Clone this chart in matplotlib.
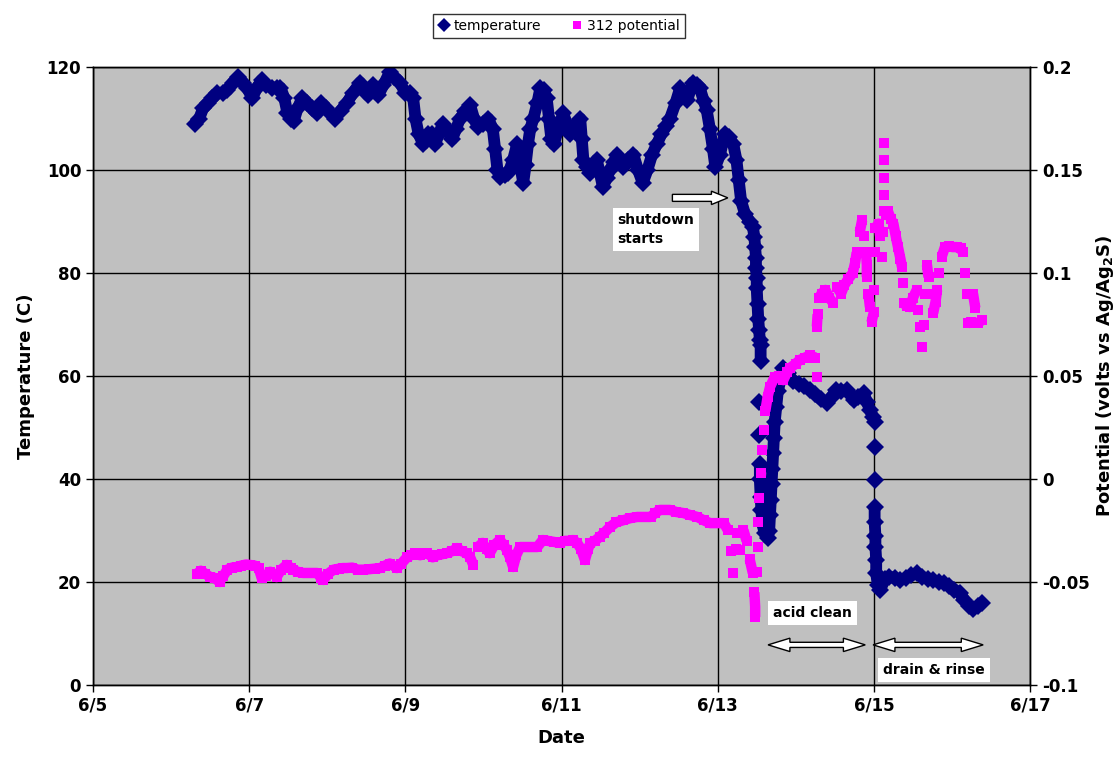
import matplotlib
matplotlib.use("Agg")
import matplotlib.pyplot as plt
import numpy as np
from matplotlib.patches import Polygon

# ---------------------------------------------------
# data (x = day of June)
# ---------------------------------------------------
temp_day = [6.30, 6.36, 6.41, 6.47, 6.53, 6.59, 6.66, 6.72, 6.79, 6.86, 6.92, 6.97,
            7.04, 7.10, 7.16, 7.22, 7.29, 7.35, 7.40, 7.45, 7.49, 7.53, 7.57, 7.62,
            7.68, 7.74, 7.80, 7.87, 7.92, 7.98, 8.04, 8.10, 8.17, 8.25, 8.33, 8.42,
            8.47, 8.52, 8.59, 8.65, 8.72, 8.80, 8.86, 8.93, 9.00, 9.06, 9.10, 9.13,
            9.17, 9.23, 9.29, 9.34, 9.38, 9.43, 9.48, 9.54, 9.60, 9.65, 9.70, 9.77,
            9.83, 9.88, 9.93, 10.00, 10.06, 10.12, 10.15, 10.18, 10.21, 10.27, 10.32,
            10.38, 10.43, 10.47, 10.51, 10.54, 10.57, 10.60, 10.64, 10.69, 10.73,
            10.77, 10.81, 10.84, 10.87, 10.90, 10.96, 11.02, 11.07, 11.11, 11.17,
            11.24, 11.26, 11.28, 11.33, 11.37, 11.41, 11.45, 11.49, 11.53, 11.58,
            11.62, 11.67, 11.71, 11.75, 11.79, 11.85, 11.92, 11.98, 12.04, 12.10,
            12.16, 12.22, 12.28, 12.34, 12.39, 12.46, 12.52, 12.57, 12.61, 12.65,
            12.68, 12.73, 12.77, 12.82, 12.86, 12.90, 12.94, 12.97, 13.03, 13.09,
            13.14, 13.20, 13.24, 13.27, 13.30, 13.35, 13.41, 13.45, 13.47, 13.48,
            13.49, 13.49, 13.50, 13.50, 13.51, 13.52, 13.53, 13.54, 13.55,
            13.55, 13.53, 13.53, 13.54, 13.54, 13.55, 13.56, 13.57, 13.60, 13.64,
            13.66, 13.67, 13.68, 13.69, 13.70, 13.71, 13.72, 13.73, 13.75, 13.77,
            13.80, 13.84, 13.90, 13.97, 14.04, 14.11, 14.18, 14.25, 14.32, 14.40,
            14.46, 14.52, 14.58, 14.65, 14.70, 14.74, 14.80, 14.87, 14.91, 14.95,
            14.99, 15.02, 15.01, 15.01, 15.01, 15.01, 15.02, 15.02, 15.03, 15.03,
            15.05, 15.08, 15.14, 15.20, 15.27, 15.34, 15.41, 15.48, 15.55, 15.62,
            15.69, 15.76, 15.83, 15.90, 15.96, 16.03, 16.10, 16.16, 16.22, 16.27,
            16.33, 16.38]
temp_val = [109, 110, 112, 113, 114, 115, 115, 115.5, 117, 118, 117, 116,
            114, 116, 117.5, 116.5, 116, 116, 116, 114, 111, 110, 109.5, 112,
            114, 113, 112, 111, 113, 112, 111, 110, 111.5, 113, 115, 117,
            115.5, 114.5, 116.5, 114.5, 116.5, 119, 118, 117, 115, 115, 114, 110,
            107, 105, 107, 107, 105, 107, 109, 107.5, 106, 108, 110, 111.5,
            112.6, 110, 108.4, 109, 110, 108, 104, 100, 98.6, 99, 99.4,
            102, 105, 101, 97.5, 101, 105, 108, 110, 113, 116,
            115.5, 114, 110, 106, 105, 108, 111, 109, 107, 108.5,
            110, 106, 102, 100.5, 99.4, 100.5, 102, 99.5, 96.7, 98.5,
            100, 101.5, 103, 101.5, 100.6, 102, 103, 100, 97.5, 100,
            103, 105, 107, 108.5, 110, 113, 116, 114.5, 113.6, 115.5,
            117, 116.5, 116, 113.5, 111.6, 108, 104, 100.6, 103, 107,
            106.5, 105, 102, 98, 94, 91.5, 90, 89, 87, 85,
            83, 81, 79, 77, 74, 71, 69, 67, 66,
            63, 55, 48.5, 43, 40, 36.5, 34, 31.5, 29.5, 28.5,
            30, 33, 36, 39, 42, 45, 48, 51, 54, 57,
            59, 61.5, 60.5, 59, 58.5, 58, 57.3, 56.5, 55.5, 54.8,
            56, 57.3, 57, 57.3, 56.5, 55.3, 56, 56.7, 55, 53.4,
            52, 51, 46.2, 39.8, 34.6, 31.7, 29, 26.8, 24.3, 21.7,
            19.5, 18.5, 20.5, 21, 20.8, 20.4, 20.8, 21.3, 21.7, 21,
            20.6, 20.4, 20, 19.8, 19.3, 18.5, 17.9, 16.5, 15.3, 14.8,
            15.3, 16]

pot_day = [6.33, 6.38, 6.44, 6.50, 6.56, 6.62, 6.67, 6.72, 6.78, 6.84, 6.90, 6.96,
           7.01, 7.07, 7.12, 7.16, 7.22, 7.27, 7.31, 7.35, 7.41, 7.48, 7.53, 7.56,
           7.62, 7.69, 7.75, 7.81, 7.87, 7.92, 7.95, 8.01, 8.08, 8.15, 8.20, 8.25,
           8.32, 8.39, 8.46, 8.53, 8.61, 8.68, 8.74, 8.80, 8.89, 8.95, 9.02, 9.07,
           9.12, 9.19, 9.25, 9.28, 9.35, 9.41, 9.47, 9.53, 9.60, 9.66, 9.72, 9.79,
           9.83, 9.87, 9.93, 9.99, 10.04, 10.08, 10.14, 10.21, 10.26, 10.30, 10.34,
           10.38, 10.42, 10.47, 10.53, 10.58, 10.64, 10.69, 10.76, 10.82, 10.90,
           10.98, 11.04, 11.09, 11.15, 11.20, 11.25, 11.30, 11.34, 11.37, 11.43,
           11.49, 11.55, 11.62, 11.70, 11.79, 11.88, 11.97, 12.06, 12.14, 12.20,
           12.26, 12.33, 12.39, 12.47, 12.56, 12.65, 12.74, 12.82, 12.90, 12.99,
           13.08, 13.13, 13.17, 13.20, 13.23, 13.25, 13.29, 13.33, 13.37, 13.41,
           13.45, 13.47, 13.48, 13.48, 13.50, 13.51, 13.52, 13.53, 13.55, 13.57,
           13.59, 13.61, 13.64, 13.67, 13.73, 13.78, 13.84, 13.89, 13.93, 14.00,
           14.05, 14.12, 14.18, 14.25, 14.27,
           14.27, 14.28, 14.30, 14.33, 14.38, 14.43, 14.48, 14.53, 14.58, 14.62,
           14.67, 14.73, 14.76, 14.78, 14.82, 14.85, 14.88, 14.90, 14.91, 14.91,
           14.93, 14.95, 14.97, 15.00, 15.00, 15.01, 15.02, 15.06, 15.08, 15.10,
           15.12, 15.13, 15.13, 15.13, 15.13, 15.13, 15.15, 15.18, 15.22, 15.25,
           15.28, 15.31, 15.34, 15.36, 15.37, 15.38, 15.42, 15.46, 15.50, 15.55,
           15.57, 15.59, 15.62, 15.64, 15.66, 15.68, 15.70, 15.72, 15.76, 15.79,
           15.81, 15.84, 15.87, 15.91, 15.96, 16.01, 16.06, 16.11, 16.14, 16.17,
           16.19, 16.21, 16.25, 16.27, 16.30, 16.33, 16.38]
pot_val = [-0.046, -0.0445, -0.046, -0.0476, -0.048, -0.05, -0.047, -0.044, -0.043,
           -0.0427, -0.042, -0.0415, -0.0417, -0.042, -0.043, -0.048, -0.047, -0.045,
           -0.046, -0.0476, -0.044, -0.0417, -0.043, -0.044, -0.045, -0.0456, -0.0456,
           -0.0456, -0.0456, -0.048, -0.049, -0.046, -0.044, -0.0435, -0.0432, -0.0432,
           -0.043, -0.044, -0.044, -0.0438, -0.0435, -0.0432, -0.042, -0.041, -0.0432,
           -0.041, -0.038, -0.037, -0.036, -0.037, -0.036, -0.036, -0.038, -0.037,
           -0.0365, -0.036, -0.035, -0.0335, -0.035, -0.036, -0.038, -0.0417, -0.033,
           -0.031, -0.034, -0.036, -0.032, -0.0296, -0.032, -0.0345, -0.038, -0.0427,
           -0.037, -0.033, -0.033, -0.033, -0.033, -0.033, -0.0296, -0.030, -0.0305,
           -0.031, -0.030, -0.030, -0.0296, -0.031, -0.034, -0.0393, -0.034, -0.031,
           -0.030, -0.028, -0.026, -0.0233, -0.021, -0.020, -0.019, -0.0184, -0.0184,
           -0.0184, -0.0165, -0.015, -0.015, -0.015, -0.016, -0.0165, -0.0175, -0.0184,
           -0.020, -0.0214, -0.0214, -0.0214, -0.0248, -0.035, -0.0456, -0.034, -0.026,
           -0.0345, -0.0248, -0.030, -0.039, -0.0456, -0.055, -0.062, -0.067, -0.045,
           -0.033, -0.021, -0.009, 0.003, 0.014, 0.024, 0.033, 0.040, 0.0447, 0.0495,
           0.050, 0.048, 0.052, 0.054, 0.056, 0.0578, 0.059, 0.060, 0.059, 0.0495,
           0.074, 0.080, 0.088, 0.090, 0.0918, 0.088, 0.0854, 0.093, 0.090, 0.094,
           0.097, 0.100, 0.105, 0.110, 0.120, 0.1257, 0.118, 0.110, 0.104, 0.098,
           0.090, 0.0835, 0.076, 0.081, 0.092, 0.110, 0.122, 0.124, 0.118, 0.108,
           0.120, 0.130, 0.138, 0.146, 0.155, 0.163, 0.128, 0.130, 0.126, 0.124,
           0.118, 0.1126, 0.107, 0.103, 0.095, 0.0854, 0.084, 0.0835, 0.088, 0.0918,
           0.082, 0.0738, 0.064, 0.075, 0.090, 0.104, 0.098, 0.090, 0.0806, 0.086,
           0.0918, 0.100, 0.108, 0.1126, 0.113, 0.1126, 0.1126, 0.112, 0.110, 0.100,
           0.090, 0.0757, 0.076, 0.090, 0.083, 0.0757, 0.077]

date_ticks = [5, 7, 9, 11, 13, 15, 17]
date_labels = ["6/%d" % d for d in date_ticks]
temp_ticks = [0, 20, 40, 60, 80, 100, 120]
pot_ticks = [-0.1, -0.05, 0, 0.05, 0.1, 0.15, 0.2]
pot_labels = ["-0.1", "-0.05", "0", "0.05", "0.1", "0.15", "0.2"]

NAVY = "#000080"
MAGENTA = "#FF00FF"

plt.rcParams["font.family"] = "DejaVu Sans"
plt.rcParams["mathtext.default"] = "regular"


def band(x, y, max_step):
    # the logger wrote readings so densely that the markers merge into a band;
    # fill the gaps between close readings, break where the value jumps
    x = np.asarray(x, float)
    y = np.asarray(y, float)
    xs, ys = [x[0]], [y[0]]
    for i in range(1, len(x)):
        if abs(y[i] - y[i - 1]) > max_step:
            xs.append(np.nan)
            ys.append(np.nan)
        xs.append(x[i])
        ys.append(y[i])
    return xs, ys


fig = plt.figure(figsize=(11.18, 7.62), dpi=100)
ax1 = fig.add_axes([0.0832, 0.101, 0.8381, 0.811])
ax2 = ax1.twinx()

ax1.set_facecolor("#C0C0C0")
bx, by = band(temp_day, temp_val, 4.0)
ax1.plot(bx, by, color=NAVY, linewidth=8.5, solid_capstyle="butt")
ax1.plot(temp_day, temp_val, linestyle="none", marker="D", markersize=9,
         markeredgewidth=0, color=NAVY, label="temperature")
bx, by = band(pot_day, pot_val, 0.007)
ax2.plot(bx, by, color=MAGENTA, linewidth=7.5, solid_capstyle="butt")
ax2.plot(pot_day, pot_val, linestyle="none", marker="s", markersize=7.5,
         markeredgewidth=0, color=MAGENTA, label="312 potential")

ax1.set_xlim(5, 17)
ax1.set_ylim(0, 120)
ax2.set_ylim(-0.1, 0.2)
ax1.set_xticks(date_ticks)
ax1.set_xticklabels(date_labels)
ax1.set_yticks(temp_ticks)
ax2.set_yticks(pot_ticks)
ax2.set_yticklabels(pot_labels)

ax1.grid(True, color="black", linewidth=1)
ax1.set_axisbelow(True)
for ax in (ax1, ax2):
    for s in ax.spines.values():
        s.set_color("black")
        s.set_linewidth(1)
    ax.tick_params(direction="out", length=5, width=1, labelsize=12)
    for lab in ax.get_xticklabels() + ax.get_yticklabels():
        lab.set_fontweight("bold")

ax1.set_xlabel("Date", fontsize=13, fontweight="bold", labelpad=10)
ax1.set_ylabel("Temperature (C)", fontsize=13, fontweight="bold", labelpad=8)
ax2.set_ylabel(r"Potential (volts vs Ag/Ag$_\mathbf{2}$S)", fontsize=13,
               fontweight="bold", labelpad=3)

# legend above the plot
h1, l1 = ax1.get_legend_handles_labels()
h2, l2 = ax2.get_legend_handles_labels()
leg = fig.legend(h1 + h2, l1 + l2, loc="center", bbox_to_anchor=(0.5, 0.966),
                 ncol=2, fontsize=10, frameon=True, fancybox=False,
                 handlelength=0.8, handletextpad=0.3, columnspacing=2.2,
                 borderpad=0.35, markerscale=0.75)
leg.get_frame().set_edgecolor("black")
leg.get_frame().set_linewidth(1)


# ---------------------------------------------------
# annotations: white block arrows + labels
# ---------------------------------------------------
def block_arrow(x0, x1, y, head, half_w, half_h, both=True):
    if both:
        pts = [(x0, y), (x0 + head, y + half_h), (x0 + head, y + half_w),
               (x1 - head, y + half_w), (x1 - head, y + half_h), (x1, y),
               (x1 - head, y - half_h), (x1 - head, y - half_w),
               (x0 + head, y - half_w), (x0 + head, y - half_h)]
    else:
        pts = [(x0, y + half_w), (x1 - head, y + half_w), (x1 - head, y + half_h),
               (x1, y), (x1 - head, y - half_h), (x1 - head, y - half_w),
               (x0, y - half_w)]
    ax2.add_patch(Polygon(pts, closed=True, facecolor="white", edgecolor="black",
                          linewidth=1, transform=ax1.transData, zorder=5))


block_arrow(12.42, 13.13, 94.6, 0.21, 0.68, 1.3, both=False)
block_arrow(13.645, 14.89, 7.8, 0.28, 0.5, 1.3)
block_arrow(14.99, 16.40, 7.8, 0.28, 0.5, 1.3)

box = dict(boxstyle="square,pad=0.35", facecolor="white", edgecolor="none")
ax2.text(11.72, 88.5, "shutdown\nstarts", transform=ax1.transData, fontsize=10,
         fontweight="bold", ha="left", va="center", bbox=box, zorder=6,
         linespacing=1.5)
ax2.text(13.71, 14.0, "acid clean", transform=ax1.transData, fontsize=10,
         fontweight="bold", ha="left", va="center", bbox=box, zorder=6)
ax2.text(15.12, 2.9, "drain & rinse", transform=ax1.transData, fontsize=10,
         fontweight="bold", ha="left", va="center", bbox=box, zorder=6)

fig.savefig("out.png", dpi=100)
